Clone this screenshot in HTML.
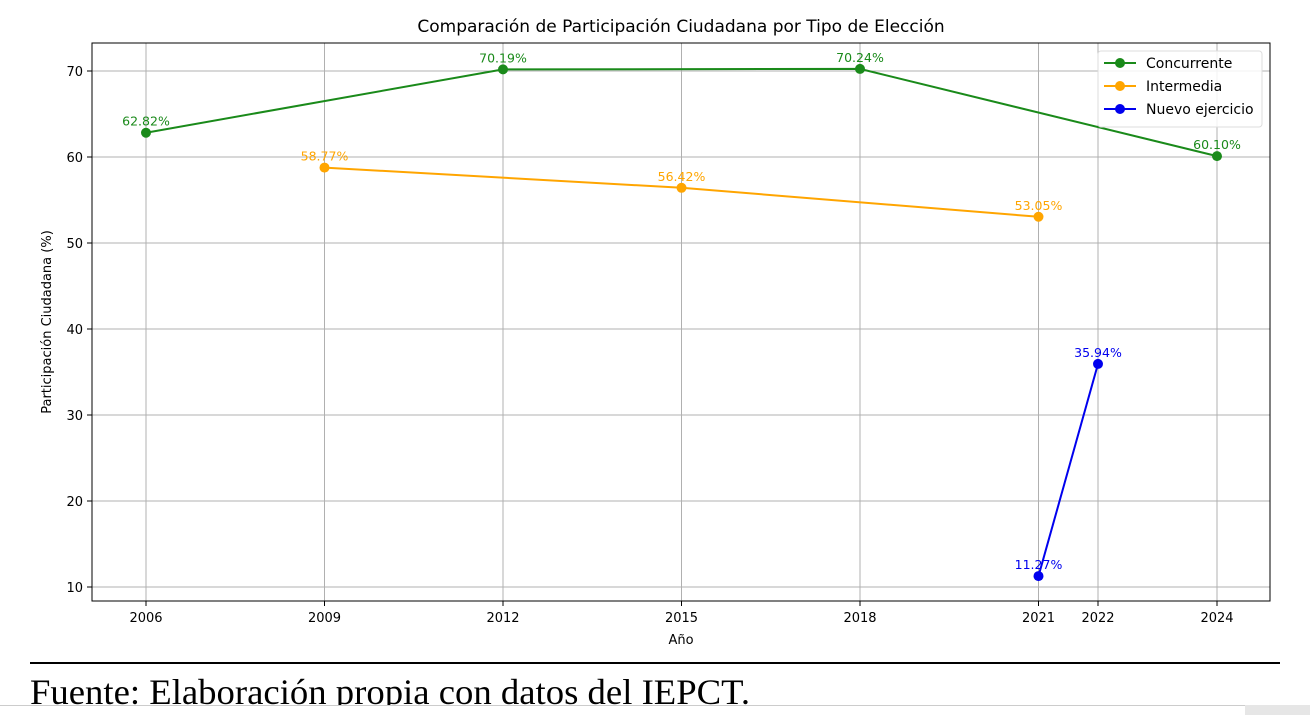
<!DOCTYPE html>
<html><head><meta charset="utf-8"><style>
body{margin:0;width:1310px;height:715px;background:#fff;overflow:hidden;position:relative;font-family:"DejaVu Sans","Liberation Sans",sans-serif}
svg{position:absolute;left:0;top:0}
</style></head><body>
<svg width="1310" height="715">
<g id="grid"></g>
<rect x="92" y="43" width="1178" height="558" fill="none" stroke="#000" stroke-width="1"/>
<g id="marks"></g>
<g id="axes"></g>
<text x="681" y="32" text-anchor="middle" font-size="17" fill="#000">Comparación de Participación Ciudadana por Tipo de Elección</text>
<text x="681" y="644" text-anchor="middle" font-size="13">Año</text>
<text transform="translate(51,322) rotate(-90)" text-anchor="middle" font-size="13">Participación Ciudadana (%)</text>
<g>
<rect x="1098" y="51" width="164" height="76" rx="3" fill="#fff" fill-opacity="0.85" stroke="#ddd"/>
<g id="legend"></g>
</g>
<line x1="30" y1="663" x2="1280" y2="663" stroke="#000" stroke-width="2"/>
<text x="30" y="704" font-family="Liberation Serif,serif" font-size="36" textLength="720" lengthAdjust="spacingAndGlyphs" fill="#000">Fuente: Elaboración propia con datos del IEPCT.</text>
<rect x="0" y="705" width="1245" height="10" fill="#fff"/>
<line x1="0" y1="705.5" x2="1245" y2="705.5" stroke="#ccc"/>
<rect x="1245" y="705" width="65" height="10" fill="#e6e6e6"/>
</svg>
<script>
const xTicks=[2006,2009,2012,2015,2018,2021,2022,2024];
const yTicks=[10,20,30,40,50,60,70];
const seriesNames=["Concurrente","Intermedia","Nuevo ejercicio"];
const seriesColors=["#1a8a1a","#ffa500","#0000ee"];
const concYears=[2006,2012,2018,2024];
const concVals=[62.82,70.19,70.24,60.10];
const interYears=[2009,2015,2021];
const interVals=[58.77,56.42,53.05];
const nuevoYears=[2021,2022];
const nuevoVals=[11.27,35.94];
const NS="http://www.w3.org/2000/svg";
const X=y=>146+(y-2006)*(1217-146)/18;
const Y=v=>587-(v-10)*(587-71)/60;
function mk(t,a,p){const e=document.createElementNS(NS,t);for(const k in a)e.setAttribute(k,a[k]);p.appendChild(e);return e;}
const grid=document.getElementById('grid'),axes=document.getElementById('axes'),marks=document.getElementById('marks'),leg=document.getElementById('legend');
xTicks.forEach(t=>{
 const l=mk('line',{x1:X(t),x2:X(t),y1:43,y2:601,stroke:'#b0b0b0','stroke-width':1},grid);
 
 
 mk('line',{x1:X(t),x2:X(t),y1:601,y2:606,stroke:'#000'},axes);
 const tx=mk('text',{x:X(t),y:622,'text-anchor':'middle','font-size':13},axes);
 tx.textContent=t;
 
 
});
yTicks.forEach(t=>{
 const l=mk('line',{x1:92,x2:1270,y1:Y(t),y2:Y(t),stroke:'#b0b0b0','stroke-width':1},grid);
 
 
 mk('line',{x1:87,x2:92,y1:Y(t),y2:Y(t),stroke:'#000'},axes);
 const tx=mk('text',{x:83,y:Y(t)+5,'text-anchor':'end','font-size':13},axes);
 tx.textContent=t;
 
 
});
const series=[[concYears,concVals],[interYears,interVals],[nuevoYears,nuevoVals]];
series.forEach((s,i)=>{
 const c=seriesColors[i];
 const g=mk('g',{},marks);
 
 
 mk('polyline',{points:s[0].map((y,j)=>X(y)+','+Y(s[1][j])).join(' '),fill:'none',stroke:c,'stroke-width':2},g);
 s[0].forEach((y,j)=>{
  const p=mk('circle',{cx:X(y),cy:Y(s[1][j]),r:5,fill:c},g);
  
  
  const tx=mk('text',{x:X(y),y:Y(s[1][j])-7,'text-anchor':'middle','font-size':12.5,fill:c},g);
  tx.textContent=s[1][j].toFixed(2)+'%';
  
  
 });
 const ly=63+i*23;
 mk('line',{x1:1104,x2:1136,y1:ly,y2:ly,stroke:c,'stroke-width':2},leg);
 mk('circle',{cx:1120,cy:ly,r:5,fill:c},leg);
 const lt=mk('text',{x:1146,y:ly+5,'font-size':14},leg);
 lt.textContent=seriesNames[i];
 
 
});
</script>
</body></html>
